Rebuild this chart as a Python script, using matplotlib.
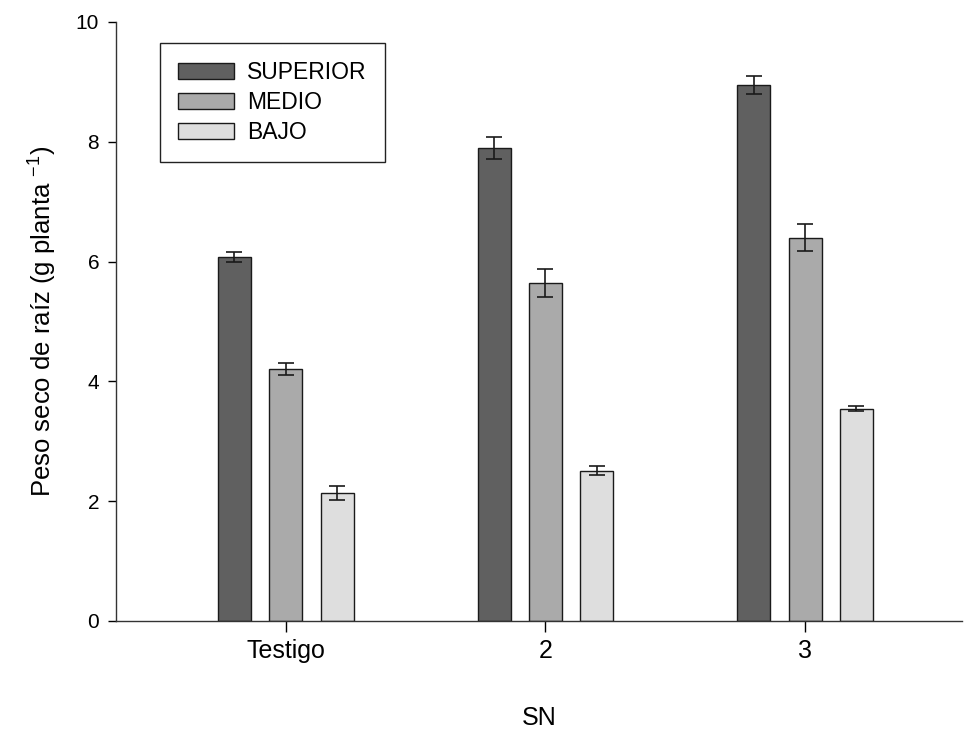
import numpy as np
import matplotlib
matplotlib.use("Agg")
import matplotlib.pyplot as plt

plt.rcParams['font.family'] = ['Liberation Sans', 'DejaVu Sans']

# datos
grupos = ["Testigo", "2", "3"]
niveles = ["SUPERIOR", "MEDIO", "BAJO"]
superior = [6.08, 7.90, 8.95]
superior_err = [0.08, 0.18, 0.15]
medio = [4.21, 5.64, 6.40]
medio_err = [0.10, 0.24, 0.22]
bajo = [2.14, 2.51, 3.54]
bajo_err = [0.12, 0.08, 0.04]

colores = ["#606060", "#aaaaaa", "#dedede"]

fig = plt.figure(figsize=(9.65, 7.33), dpi=100)
ax = fig.add_axes([0.120, 0.153, 0.877, 0.817])

x = np.arange(len(grupos))
ancho = 0.127
paso = 0.198

series = [(superior, superior_err), (medio, medio_err), (bajo, bajo_err)]
for i, (vals, errs) in enumerate(series):
    ax.bar(x + (i - 1) * paso, vals, ancho, color=colores[i], edgecolor="#1a1a1a",
           linewidth=1.0, label=niveles[i], zorder=2)
    ax.errorbar(x + (i - 1) * paso, vals, yerr=errs, fmt="none", ecolor="#1a1a1a",
                elinewidth=1.2, capsize=6, capthick=1.2, zorder=3)

ax.set_xlim(-0.655, 2.605)
ax.set_ylim(0, 10)
ax.set_yticks([0, 2, 4, 6, 8, 10])
ax.set_xticks(x)
ax.set_xticklabels(grupos, fontsize=18)

for s in ["top", "right"]:
    ax.spines[s].set_visible(False)
for s in ["left", "bottom"]:
    ax.spines[s].set_linewidth(1.0)
    ax.spines[s].set_color("#333333")

ax.tick_params(axis="y", direction="out", length=6, width=1.0, labelsize=15, pad=6)
ax.tick_params(axis="x", direction="out", length=8, width=1.0, pad=5)

ax.set_ylabel("Peso seco de raíz (g planta $^{\\mathregular{-1}}$)", fontsize=18.5, labelpad=13)
ax.set_xlabel("SN", fontsize=18, labelpad=31)

leg = ax.legend(loc="upper left", bbox_to_anchor=(0.052, 0.965), fontsize=16.5,
                frameon=True, fancybox=False, edgecolor="#222222", framealpha=1,
                handlelength=2.45, handleheight=0.7, borderpad=0.8, labelspacing=0.3,
                handletextpad=0.55, borderaxespad=0)
leg.get_frame().set_linewidth(1.0)

fig.savefig("out.png", dpi=100)
